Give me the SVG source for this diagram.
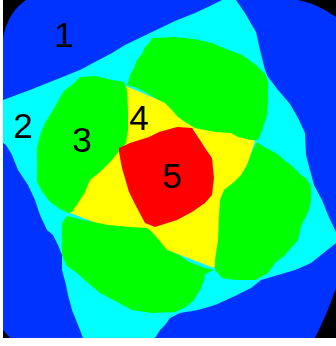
<svg xmlns="http://www.w3.org/2000/svg" width="336" height="346" viewBox="0 0 336 346">
<style>
.lbl{font-family:"Liberation Sans",Arial,sans-serif;font-size:35px;fill:#000;text-anchor:middle}
.g{fill:#00ff00}
</style>
<rect x="0" y="0" width="336" height="346" fill="#ffffff"/>
<rect x="3" y="0" width="333" height="338" fill="#000000"/>
<path id="region1" fill="#0033ff" d="M26,0 L298,0 Q318,4 336,17 L336,288 Q328,312 315,338 L10,338 L3,330 L3,38 Q8,12 26,0 Z"/>
<polygon id="region2" fill="#00ffff" points="3,100 30,90 60,78 80,70 95,62 112,53 125,45 150,33 175,21 195,13 210,6 222,0 236,0 245,13 250,22 256,32 260,50 265,70 268,77 278,90 290,104 298,118 305,133 306,155 310,170 314,185 322,200 328,215 336,232 336,243 311,263 295,270 278,275 261,280 251,288 235,296 215,305 198,310 180,313 170,318 165,325 160,330 155,338 83,338 78,325 72,310 68,295 66,285 62,270 62,255 58,245 53,235 47,230 40,215 35,200 28,185 18,170 12,155 6,145 3,143"/>
<polygon id="region4" fill="#ffff00" points="126,86 255,141 214,268 70,213"/>
<g id="region3">
<polygon class="g" points="80,77 95,76 112,80 124,82 127,90 128,110 128,130 126,143 120,150 112,160 100,172 90,180 85,192 80,200 72,212 68,213 60,209 50,202 43,193 37,182 37,165 37,148 40,135 45,123 53,110 57,103 60,97 65,90 72,85"/>
<polygon class="g" points="152,38 175,37 194,39 212,43 226,49 242,55 249,60 256,65 261,70 266,75 268,82 268,100 267,115 264,125 261,133 258,140 251,140 238,137 231,133 215,132 195,128 185,122 178,117 170,108 165,103 155,98 145,92 137,88 127,85 129,80 130,75 134,68 137,60 142,54 145,47 150,42"/>
<polygon class="g" points="257,142 264,147 274,152 281,157 286,162 291,165 296,170 301,175 306,178 311,186 311,200 309,210 306,216 301,226 298,240 291,248 285,255 275,263 268,273 255,280 235,280 222,278 215,270 215,260 218,240 219,215 220,200 224,190 234,182 241,175 247,165 252,152"/>
<polygon class="g" points="67,216 83,220 108,225 130,227 147,228 152,232 159,240 167,250 179,255 189,262 197,265 205,268 214,270 205,274 204,280 200,290 194,300 186,307 175,312 152,313 132,310 115,301 100,293 88,283 77,273 67,266 62,256 62,240 62,223"/>
</g>
<polygon id="region5" fill="#ff0000" points="177,127 192,128 200,140 205,148 212,158 214,178 212,195 205,203 192,212 177,220 155,227 145,223 137,208 129,192 122,168 119,152 119,148 130,143 149,137 159,132"/>
<g id="labels">
<text class="lbl" x="64" y="47">1</text>
<text class="lbl" x="23" y="138">2</text>
<text class="lbl" x="82" y="152">3</text>
<text class="lbl" x="139" y="130">4</text>
<text class="lbl" x="172" y="188">5</text>
</g>
</svg>
